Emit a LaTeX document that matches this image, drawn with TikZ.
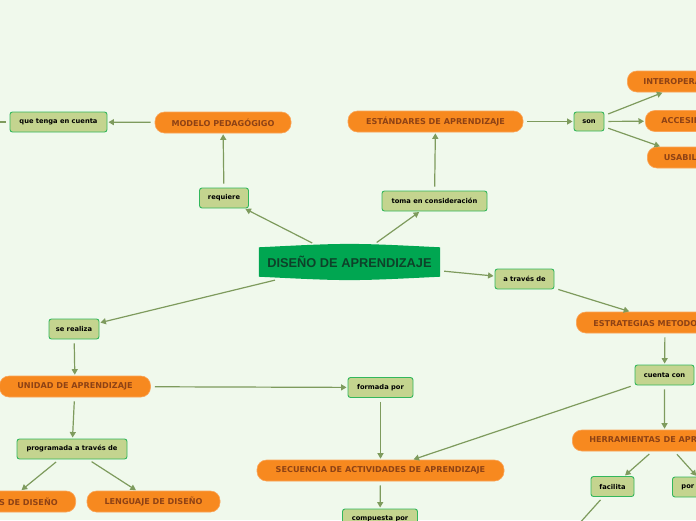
\documentclass[tikz,border=0pt]{standalone}
\usepackage{fontspec}
\setmainfont{DejaVu Sans}
\newfontfamily\centralfont{Liberation Sans}
\usetikzlibrary{arrows.meta}
\definecolor{bgcol}{HTML}{F0F9EC}
\definecolor{orfill}{HTML}{F7891F}
\definecolor{oredge}{HTML}{FAA458}
\definecolor{ortext}{HTML}{8E4215}
\definecolor{grfill}{HTML}{C4D48F}
\definecolor{gredge}{HTML}{33B75C}
\definecolor{linecol}{HTML}{7E9B5D}
\definecolor{cfill}{HTML}{00A651}
\definecolor{ctext}{HTML}{0E4129}
\tikzset{
  pill/.style={rectangle, rounded corners=9.5pt, fill=orfill, draw=oredge, line width=0.6pt,
    minimum height=21pt, inner sep=0pt, text=ortext,
    font=\fontsize{8.1}{9}\selectfont\bfseries},
  linkbox/.style={rectangle, rounded corners=2.5pt, fill=grfill, draw=gredge, line width=0.9pt,
    minimum height=20pt, inner sep=0pt, text=black,
    font=\fontsize{6.7}{8}\selectfont\bfseries},
  conn/.style={draw=linecol, line width=1.2pt, shorten <=4pt, shorten >=1pt,
    -{Triangle[length=5.5pt,width=6pt]}},
  plain/.style={draw=linecol, line width=1.2pt, shorten <=4pt}
}
\begin{document}
\begin{tikzpicture}[x=1pt,y=-1pt]
\useasboundingbox (0,0) rectangle (696,520);
\clip (0,0) rectangle (696,520);
\fill[bgcol] (0,0) rectangle (696,520);

% central node
\node[minimum width=181pt, minimum height=34pt, inner sep=0pt] (center) at (349.5,262) {};
\fill[cfill] ([yshift=-2.5pt]center.north west) .. controls ([yshift=2pt]center.north) .. ([yshift=-2.5pt]center.north east)
  -- ([yshift=2.5pt]center.south east) .. controls ([yshift=-2pt]center.south) .. ([yshift=2.5pt]center.south west) -- cycle;
\node[text=ctext, font=\centralfont\fontsize{12.8}{14}\selectfont\bfseries] at (center) {DISEÑO DE APRENDIZAJE};

% orange nodes
\node[pill, minimum width=136pt] (modelo) at (223,122.5) {MODELO PEDAGÓGIGO};
\node[pill, minimum width=175pt] (estandares) at (435.5,121.5) {ESTÁNDARES DE APRENDIZAJE};
\node[pill, anchor=west, inner xsep=16pt] (interop) at (627,81.5) {INTEROPERABILIDAD};
\node[pill, anchor=west, inner xsep=16pt] (acces) at (645,121) {ACCESIBILIDAD};
\node[pill, anchor=west, inner xsep=16.5pt] (usab) at (647,157.5) {USABILIDAD};
\node[pill, anchor=west, inner xsep=17pt] (estrateg) at (576,322.5) {ESTRATEGIAS METODOLÓGICAS};
\node[pill, anchor=west, inner xsep=17pt] (herram) at (572,440.5) {HERRAMIENTAS DE APRENDIZAJE};
\node[pill, minimum width=151pt] (unidad) at (75,386.5) {UNIDAD DE APRENDIZAJE};
\node[pill, anchor=east, inner xsep=18pt] (patrones) at (76,501.5) {PATRONES DE DISEÑO};
\node[pill, minimum width=133pt] (lenguaje) at (153.5,501.5) {LENGUAJE DE DISEÑO};
\node[pill, minimum width=247pt] (secuencia) at (380.5,470.5) {SECUENCIA DE ACTIVIDADES DE APRENDIZAJE};

% green link boxes
\node[linkbox, minimum width=97pt] (qt) at (58.5,122) {que tenga en cuenta};
\node[linkbox, minimum width=49pt] (requiere) at (224,198) {requiere};
\node[linkbox, minimum width=105pt] (toma) at (434.5,201) {toma en consideración};
\node[linkbox, minimum width=30pt, minimum height=19pt] (son) at (589,121.5) {son};
\node[linkbox, minimum width=59pt] (atraves) at (524.5,279) {a través de};
\node[linkbox, minimum width=59pt] (cuenta) at (664.5,375) {cuenta con};
\node[linkbox, minimum width=43pt] (facilita) at (612.5,486.5) {facilita};
\node[linkbox, anchor=west, inner xsep=9pt] (por) at (672,487) {por medio de};
\node[linkbox, minimum width=50pt] (serealiza) at (74,329) {se realiza};
\node[linkbox, minimum width=65pt] (formada) at (380.5,387.5) {formada por};
\node[linkbox, minimum width=110pt] (programada) at (72,449) {programada a través de};
\node[linkbox, minimum width=75pt] (compuesta) at (380,519) {compuesta por};

\coordinate (qtend) at (-40,122);
\coordinate (facend) at (560,545);

% connectors
\draw[conn] (modelo) -- (qt);
\draw[plain] (qt) -- (qtend);
\draw[conn] (requiere) -- (modelo);
\draw[conn] (center) -- (requiere);
\draw[conn] (center) -- (toma);
\draw[conn] (toma) -- (estandares);
\draw[conn] (estandares) -- (son);
\draw[conn] (son) -- (interop);
\draw[conn] (son) -- (acces);
\draw[conn] (son) -- (usab);
\draw[conn] (center) -- (atraves);
\draw[conn] (atraves) -- (estrateg);
\draw[conn] (estrateg) -- (cuenta);
\draw[conn] (cuenta) -- (herram);
\draw[conn] (cuenta) -- (secuencia);
\draw[conn] (herram) -- (facilita);
\draw[conn] (herram) -- (por);
\draw[plain] (facilita) -- (facend);
\draw[conn] (center) -- (serealiza);
\draw[conn] (serealiza) -- (unidad);
\draw[conn] (unidad) -- (formada);
\draw[conn] (unidad) -- (programada);
\draw[conn] (programada) -- (patrones);
\draw[conn] (programada) -- (lenguaje);
\draw[conn] (formada) -- (secuencia);
\draw[conn] (secuencia) -- (compuesta);
\end{tikzpicture}
\end{document}
